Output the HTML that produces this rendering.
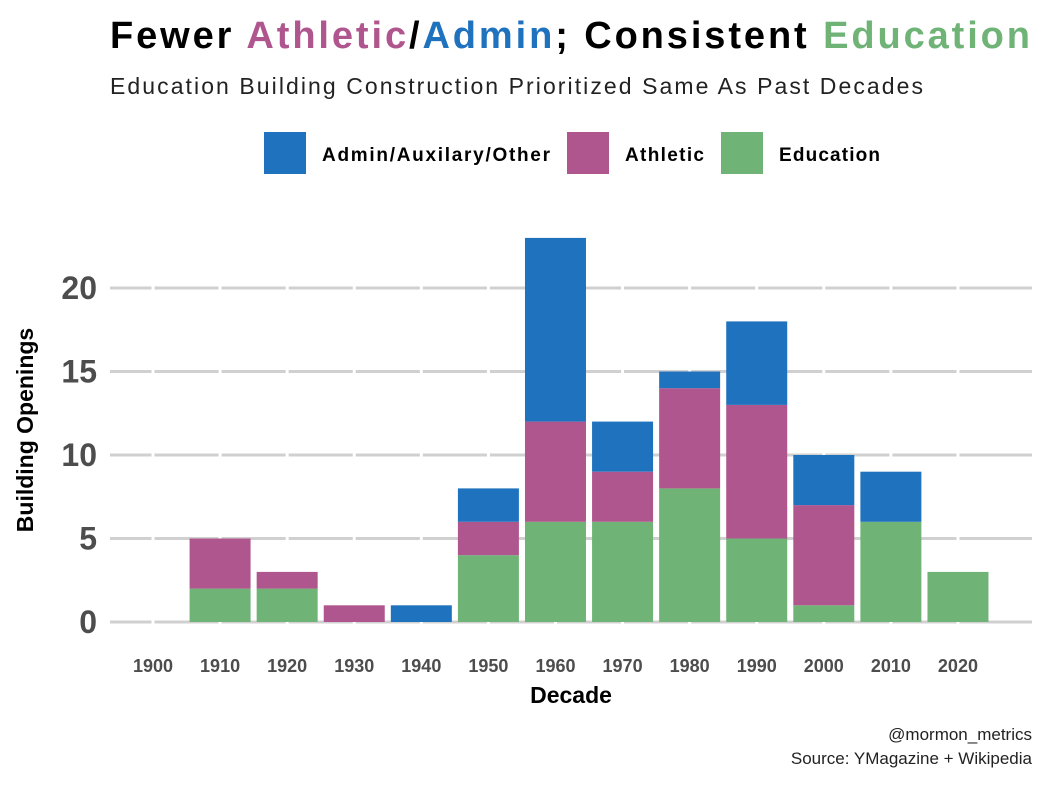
<!DOCTYPE html>
<html><head><meta charset="utf-8"><style>
body{margin:0;background:#fff;font-family:"Liberation Sans",sans-serif;}
svg text{font-family:"Liberation Sans",sans-serif;}
</style></head><body>
<svg width="1048" height="782" xmlns="http://www.w3.org/2000/svg">
<text x="110" y="48" font-size="38" font-weight="bold" fill="#000" textLength="920" lengthAdjust="spacing">Fewer <tspan fill="#b0568e">Athletic</tspan>/<tspan fill="#1f72bd">Admin</tspan>; Consistent <tspan fill="#6fb377">Education</tspan></text>
<text x="110" y="94" font-size="23" fill="#222" textLength="813" lengthAdjust="spacing">Education Building Construction Prioritized Same As Past Decades</text>
<g>
<rect x="264" y="132" width="42" height="42" fill="#1f72bd"/>
<text x="322" y="161" font-size="19" font-weight="bold" textLength="228" lengthAdjust="spacing">Admin/Auxilary/Other</text>
<rect x="567" y="132" width="42" height="42" fill="#b0568e"/>
<text x="625" y="161" font-size="19" font-weight="bold" textLength="79" lengthAdjust="spacing">Athletic</text>
<rect x="721" y="132" width="42" height="42" fill="#6fb377"/>
<text x="779" y="161" font-size="19" font-weight="bold" textLength="101" lengthAdjust="spacing">Education</text>
</g>
<g id="grid"></g><g id="bars"></g><g id="axes"></g>
<text x="571" y="703" font-size="23" font-weight="bold" text-anchor="middle">Decade</text>
<text transform="translate(33,430) rotate(-90)" font-size="23" font-weight="bold" text-anchor="middle">Building Openings</text>
<text x="1032" y="740" font-size="17" text-anchor="end" fill="#222">@mormon_metrics</text>
<text x="1032" y="764" font-size="17" text-anchor="end" fill="#222">Source: YMagazine + Wikipedia</text>
</svg>
<script>
const decades=["1900","1910","1920","1930","1940","1950","1960","1970","1980","1990","2000","2010","2020"];
const education=[0,2,2,0,0,4,6,6,8,5,1,6,3];
const athletic=[0,3,1,1,0,2,6,3,6,8,6,0,0];
const admin=[0,0,0,0,1,2,11,3,1,5,3,3,0];
const yTicks=[0,5,10,15,20];
const NS="http://www.w3.org/2000/svg";
const x=i=>153+i*67.08, y=v=>622-v*16.7, bw=61;
function mk(tag,attrs,parent){const e=document.createElementNS(NS,tag);for(const k in attrs)e.setAttribute(k,attrs[k]);document.getElementById(parent).appendChild(e);return e;}
yTicks.forEach(t=>{
 const l=mk('line',{x1:110,x2:1032,y1:y(t),y2:y(t),stroke:'#d0d0d0','stroke-width':3},'grid');
 
 
 const tx=mk('text',{x:97,y:y(t)+11,'font-size':32,'font-weight':'bold',fill:'#4d4d4d','text-anchor':'end'},'axes');
 tx.textContent=t;
 
 
});
decades.forEach((d,i)=>{
 const g=mk('line',{x1:x(i),x2:x(i),y1:200,y2:640,stroke:'#fff','stroke-width':3},'grid');
 
 
 let base=0;
 [[education,'#6fb377','education'],[athletic,'#b0568e','athletic'],[admin,'#1f72bd','admin']].forEach(([arr,c,n])=>{
  const v=arr[i]; if(v>0){
   const r=mk('rect',{x:x(i)-bw/2,y:y(base+v),width:bw,height:y(base)-y(base+v),fill:c},'bars');
   
   
  } base+=v;});
 const t=mk('text',{x:x(i),y:672,'font-size':18,'font-weight':'bold',fill:'#4d4d4d','text-anchor':'middle'},'axes');
 t.textContent=d;
 
 
});
</script>
</body></html>
